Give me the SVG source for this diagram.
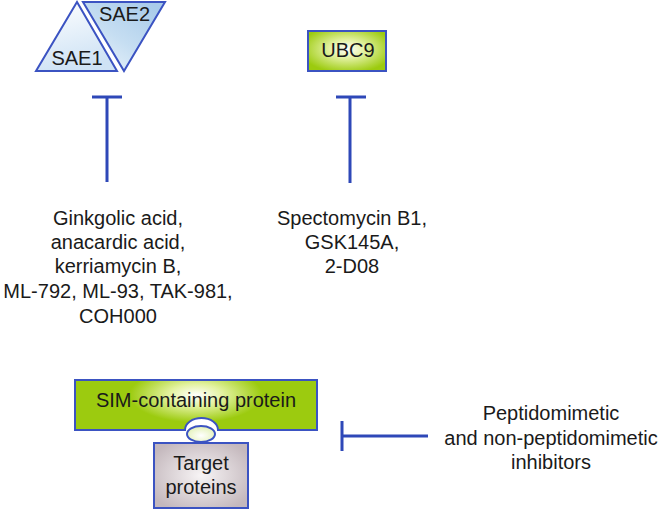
<svg xmlns="http://www.w3.org/2000/svg" width="663" height="510" viewBox="0 0 663 510">
<defs>
<linearGradient id="gSae1" x1="0" y1="0" x2="0.3" y2="1">
<stop offset="0" stop-color="#ffffff"/>
<stop offset="1" stop-color="#cfe3f5"/>
</linearGradient>
<linearGradient id="gSae2" x1="0" y1="1" x2="0.8" y2="0">
<stop offset="0" stop-color="#f2f8fd"/>
<stop offset="0.5" stop-color="#c6def2"/>
<stop offset="1" stop-color="#a9cbea"/>
</linearGradient>
<radialGradient id="gGreen" cx="0.5" cy="0.45" r="0.6">
<stop offset="0" stop-color="#ffffff"/>
<stop offset="0.35" stop-color="#e6f3a8"/>
<stop offset="1" stop-color="#9ccb0f"/>
</radialGradient>
<radialGradient id="gGreenWide" cx="0.5" cy="0.3" r="0.55" gradientTransform="translate(0.25 0) scale(0.5 1)">
<stop offset="0" stop-color="#ffffff"/>
<stop offset="0.4" stop-color="#e3f2a0"/>
<stop offset="1" stop-color="#9ccb0f"/>
</radialGradient>
<radialGradient id="gGray" cx="0.5" cy="0.5" r="0.6">
<stop offset="0" stop-color="#f7f4f5"/>
<stop offset="1" stop-color="#c4b8bd"/>
</radialGradient>
<radialGradient id="gBall" cx="0.5" cy="0.6" r="0.6">
<stop offset="0" stop-color="#ffffff"/>
<stop offset="1" stop-color="#e2f1b4"/>
</radialGradient>
</defs>
<style>
.shape{stroke:#3b53c2;stroke-width:2;stroke-linejoin:miter}
.inh{stroke:#2e48b8;stroke-width:3;fill:none}
text{font-family:"Liberation Sans",Arial,sans-serif;font-size:20px;fill:#1a1a1a;text-anchor:middle}
</style>
<g id="SAE1">
<polygon class="shape" points="36,71 77,2 117,71" fill="url(#gSae1)"/>
<text x="77" y="65">SAE1</text>
</g>
<g id="SAE2">
<polygon class="shape" points="83,2 165,2 124,71" fill="url(#gSae2)"/>
<text x="124.5" y="21">SAE2</text>
</g>
<g id="UBC9">
<rect class="shape" x="308" y="31" width="78" height="40" fill="url(#gGreen)"/>
<text x="348" y="57">UBC9</text>
</g>
<g id="SAE-inhibitors">
<text x="118" y="225">Ginkgolic acid,</text>
<text x="118" y="249">anacardic acid,</text>
<text x="118" y="273">kerriamycin B,</text>
<text x="118" y="298">ML-792, ML-93, TAK-981,</text>
<text x="118" y="323">COH000</text>
</g>
<g id="UBC9-inhibitors">
<text x="352" y="225">Spectomycin B1,</text>
<text x="352" y="249">GSK145A,</text>
<text x="352" y="273">2-D08</text>
</g>
<g id="SIM-protein">
<path class="shape" d="M75,380 H317 V430 H218 A16.5,12 0 0 0 185,430 H75 Z" fill="url(#gGreenWide)"/>
<text x="196" y="407">SIM-containing protein</text>
</g>
<g id="SIM-ball">
<ellipse class="shape" cx="201" cy="434" rx="14" ry="8" fill="url(#gBall)"/>
</g>
<g id="Target-proteins">
<rect class="shape" x="154" y="443" width="94" height="65" fill="url(#gGray)"/>
<text x="201" y="470">Target</text>
<text x="201" y="494">proteins</text>
</g>
<g id="SIM-inhibitors">
<text x="551" y="420">Peptidomimetic</text>
<text x="551" y="445">and non-peptidomimetic</text>
<text x="551" y="469">inhibitors</text>
</g>
<g id="connectors">
<path class="inh" d="M107,182 V97 M92,97 H122"/>
<path class="inh" d="M350,183 V97 M336,97 H366"/>
<path class="inh" d="M428,436 H342 M342,421 V451"/>
</g>
</svg>
